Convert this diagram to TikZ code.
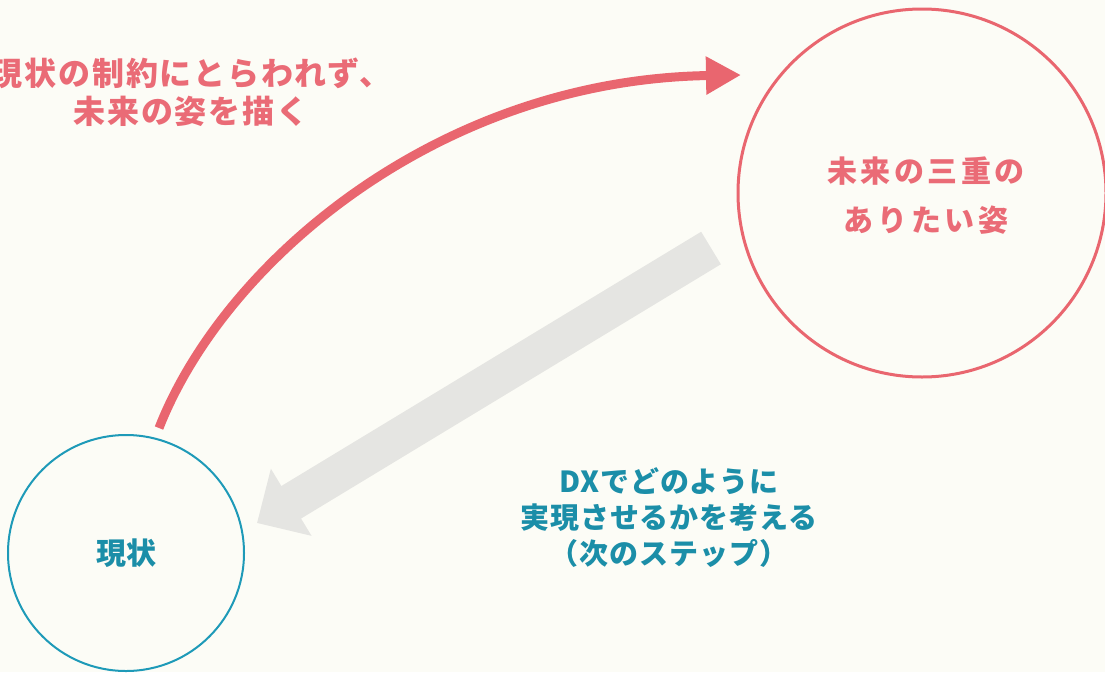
\documentclass[tikz,border=0pt]{standalone}
\usepackage{fontspec}
\usetikzlibrary{arrows.meta}
\newfontfamily\jpa[LetterSpace=6]{Noto Sans CJK JP}
\newfontfamily\jpc[LetterSpace=12]{Noto Sans CJK JP}
\newfontfamily\jpb[LetterSpace=3]{Noto Sans CJK JP}
\newfontfamily\jpt{Noto Sans CJK JP}
\definecolor{bg}{HTML}{FCFCF6}
\definecolor{redc}{HTML}{E9666F}
\definecolor{redt}{HTML}{EA6B76}
\definecolor{bluec}{HTML}{1E9AB8}
\definecolor{bluet}{HTML}{1B8EA8}
\definecolor{grayc}{HTML}{E5E5E2}
\tikzset{
  bigcircle/.style={circle, draw=redc, line width=3pt, minimum size=368pt, inner sep=0pt},
  smallcircle/.style={circle, draw=bluec, line width=2pt, minimum size=236pt, inner sep=0pt},
  redtext/.style={text=redt, align=center, inner sep=0pt},
  bluetext/.style={text=bluet, align=center, inner sep=0pt},
  redarrow/.style={draw=redc, line width=9pt, -{Triangle[length=35pt,width=36pt]}},
  grayarrow/.style={draw=grayc, line width=38pt, -{Triangle[length=40pt,width=76pt]}}
}
\begin{document}
\begin{tikzpicture}[x=1pt,y=-1pt]
\fill[bg] (0,0) rectangle (1105,672);
\useasboundingbox (0,0) rectangle (1105,672);
\node[bigcircle] (future) at (922,193) {};
\node[smallcircle] (now) at (126,553) {};
\node[redtext, font={\jpc\bfseries\fontsize{30}{49}\selectfont}] (futuretext) at (926,196) {未来の三重の\\ありたい姿};
\node[bluetext, font={\jpt\bfseries\fontsize{30}{35}\selectfont}] (nowtext) at (126,553) {現状};
\node[redtext, font={\jpa\bfseries\fontsize{32}{38}\selectfont}] (label1) at (191,92) {現状の制約にとらわれず、\\未来の姿を描く};
\node[bluetext, font={\jpb\bfseries\fontsize{29}{36}\selectfont}] (label2) at (669,518) {DXでどのように\\実現させるかを考える\\（次のステップ）};
\coordinate (rs) at (159,428);
\coordinate (re) at (741,75);
\coordinate (gs) at (711,248);
\coordinate (ge) at (257,523);
\draw[redarrow] (rs) .. controls (225,260) and (440,80) .. (re);
\draw[grayarrow] (gs) -- (ge);
\end{tikzpicture}
\end{document}
